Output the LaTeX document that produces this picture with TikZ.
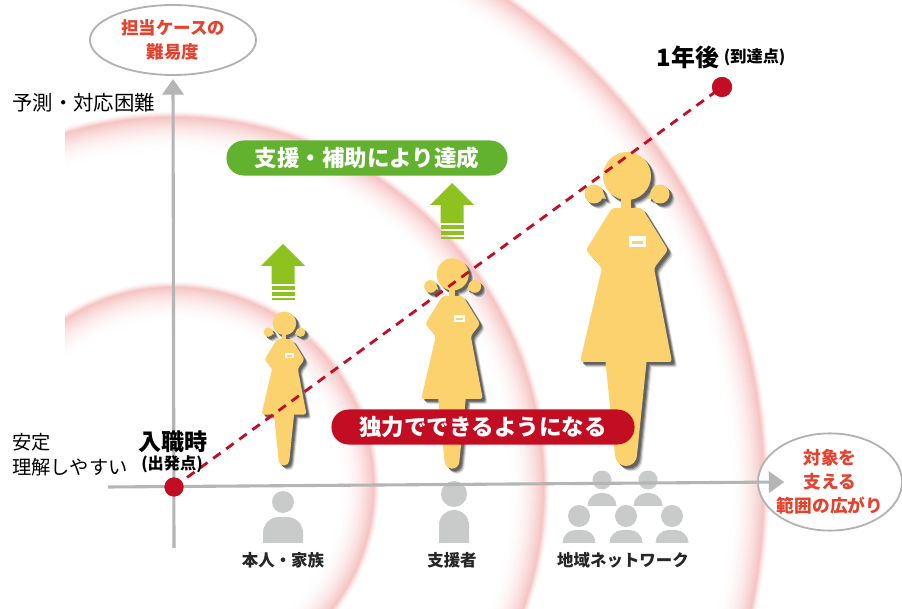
\documentclass[tikz,border=0pt]{standalone}
\usepackage{fontspec}
\setmainfont{Noto Sans CJK JP}
\usetikzlibrary{shapes.geometric, arrows.meta, positioning}

\definecolor{figyellow}{HTML}{FBD26E}
\definecolor{crimson}{HTML}{C30D23}
\definecolor{labelred}{HTML}{E5412D}
\definecolor{bannergreen}{HTML}{62B22F}
\definecolor{arrowgreen}{HTML}{8DC21F}
\definecolor{axisgray}{HTML}{B5B5B5}
\definecolor{icongray}{HTML}{C9CACA}
\definecolor{ringpink}{RGB}{246,196,196}

% outline of one standing figure, feet at (0,0)
\newcommand{\girlshape}{%
  \fill[rounded corners=2pt] (-14,-257) -- (-40,-215) -- (-24,-197) -- (-46,-103)
    -- (46,-103) -- (28,-197) -- (42,-215) -- (16,-257) -- cycle;
  \fill (-21,-108) -- (21,-108) -- (11,-10) arc[start angle=0, end angle=180, radius=11] -- cycle;
  \fill (-5,-272) rectangle (5,-250);
  \fill (1,-289) circle[radius=24];
  \fill (-24,-276) -- (-30,-268) -- (-20,-266) -- cycle;
  \fill (26,-276) -- (32,-268) -- (22,-266) -- cycle;
  \fill (-32,-271) circle[radius=9.5];
  \fill (34,-271) circle[radius=9.5];
}

\tikzset{
  pics/girl/.style={code={
    % soft drop shadow
    \foreach \off/\tone in {5.5/10, 4.5/28, 3.5/48, 2.5/62} {
      \begin{scope}[shift={(\off*#1,\off*#1)}, fill=black!\tone]
        \girlshape
      \end{scope}
    }
    \begin{scope}[fill=figyellow]
      \girlshape
    \end{scope}
    % name badge
    \fill[white] (3,-229) rectangle (20,-218);
    \fill[figyellow] (6,-224) rectangle (17,-221);
  }},
  pics/uparrow/.style={code={
    \fill[arrowgreen] (0,0) -- (22,22) -- (11.5,22) -- (11.5,40) -- (-11.5,40)
      -- (-11.5,22) -- (-22,22) -- cycle;
    \fill[arrowgreen] (-11.5,42) rectangle (11.5,46.5);
    \fill[arrowgreen] (-11.5,48.5) rectangle (11.5,52);
    \fill[arrowgreen] (-11.5,54) rectangle (11.5,56);
  }},
  pics/person/.style n args={5}{code={
    \fill[icongray] (-#1/2,0) -- (-#1/2,-#2+#3) arc[start angle=180, end angle=270, radius=#3]
      -- (#1/2-#3,-#2) arc[start angle=270, end angle=360, radius=#3] -- (#1/2,0) -- cycle;
    \fill[icongray] (0,-#5) circle[radius=#4];
  }}
}

\begin{document}
\begin{tikzpicture}[x=0.025cm, y=-0.025cm,
    axis/.style={draw=axisgray, line width=2.2pt, -{Triangle[length=11pt, width=15pt]}},
    oval/.style={ellipse, draw=gray!60, line width=1.3pt, fill=white, inner sep=0pt},
    ovaltext/.style={text=labelred, align=center, font=\fontsize{12.4}{17.5}\selectfont\bfseries},
    banner/.style={rounded corners=0.43cm, minimum height=0.875cm, text=white, font=\fontsize{16}{18}\selectfont\bfseries},
    caption/.style={text=black!85, font=\fontsize{11.7}{13}\selectfont\bfseries},
    dashline/.style={crimson, line width=2pt, dash pattern=on 6.5pt off 5pt},
    dot/.style={circle, fill=crimson, inner sep=0pt}
]
\useasboundingbox (0,0) rectangle (902,609);

\coordinate (origin) at (174,487);
\coordinate (ybottom) at (174,548);
\coordinate (xleft) at (108,487);

% Pink rings spreading out from the origin: stacked discs, outermost first
\begin{scope}
  \clip (65,0) rectangle (902,609);
  \foreach \r in {590,370,200} {
    \foreach \i/\p in {6/5,5/14,4/28,3/45,2/65,1/84} {
      \fill[ringpink!\p] (origin) circle[radius=\r+\i];
    }
    \foreach \i in {0,...,36} {
      \pgfmathsetmacro{\p}{100*((36-\i)/36)^2.2}
      \fill[ringpink!\p] (origin) circle[radius=\r-\i];
    }
  }
\end{scope}

% People icons under the horizontal axis
\pic at (283,543) {person={40}{26}{16}{11}{41}};
\pic at (454,543) {person={30}{33}{15}{13}{49}};
\pic at (602,506) {person={29}{13}{13}{9.5}{26}};
\pic at (648,506) {person={29}{13}{13}{9.5}{26}};
\foreach \px in {579,626,672} {
  \pic at (\px,543) {person={33}{13}{13}{11}{27}};
}

% Axes with their end ovals
\node[oval, minimum width=4.15cm, minimum height=1.75cm] (difficulty) at (173,40) {};
\node[ovaltext] at (difficulty) {担当ケースの\\難易度};
\node[oval, minimum width=3.6cm, minimum height=2.43cm] (range) at (830,482) {};
\node[ovaltext, font=\fontsize{12.6}{17}\selectfont\bfseries] at (range) {対象を\\支える\\範囲の広がり};
\coordinate (xtip) at ([xshift=0.68cm]range.west);
\draw[axis] (ybottom) -- ([yshift=-0.08cm]difficulty.south);
\draw[axis] (xleft) -- (xtip);

% Three figures growing from left to right
\pic[scale=0.49] at (284,465) {girl=1.8};
\pic[scale=0.67] at (452,468) {girl=1.4};
\pic at (626,465) {girl=1};

% Growth line from start to goal
\node[dot, minimum size=0.475cm] (startdot) at (origin) {};
\node[dot, minimum size=0.5cm] (enddot) at (722,87) {};
\draw[dashline] (startdot.center) -- (enddot.center);
\node[dot, minimum size=0.475cm] at (startdot) {};
\node[dot, minimum size=0.5cm] at (enddot) {};

% Support arrows and banners
\pic at (283,244) {uparrow};
\pic at (452,183) {uparrow};
\node[banner, fill=bannergreen, minimum width=7.025cm] (helped) at (367,158) {支援・補助により達成};
\node[banner, fill=crimson, minimum width=7.575cm] (alone) at (483,427) {独力でできるようになる};

% Labels
\node[anchor=west, inner sep=0pt, font=\fontsize{14.5}{17}\selectfont] (predict) at (12,103) {予測・対応困難};
\node[anchor=west, inner sep=0pt, align=left, font=\fontsize{13.7}{17.8}\selectfont] (stable) at (12,455) {安定\\理解しやすい};
\node[font=\fontsize{16.4}{18}\selectfont\bfseries] (startlabel) at (173,442) {入職時};
\node[font=\fontsize{11.5}{13}\selectfont\bfseries] (startnote) at (172,464) {(出発点)};
\node[inner sep=1pt, font=\fontsize{17}{19}\selectfont\bfseries] (goallabel) at (688,57) {1年後};
\node[inner sep=1pt, right=1pt of goallabel, font=\fontsize{11.5}{13}\selectfont\bfseries] (goalnote) {(到達点)};
\node[caption] (selflabel) at (283,560) {本人・家族};
\node[caption] (stafflabel) at (452,560) {支援者};
\node[caption] (netlabel) at (623,560) {地域ネットワーク};
\end{tikzpicture}
\end{document}
